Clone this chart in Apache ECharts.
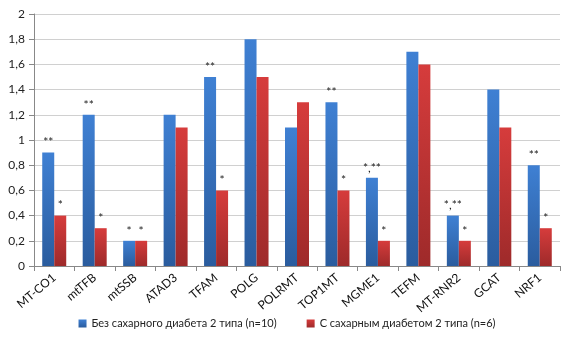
<!DOCTYPE html>
<html>
<head>
<meta charset="utf-8">
<script src="https://cdn.jsdelivr.net/npm/echarts@6/dist/echarts.min.js"></script>
<style>
  html, body { margin: 0; padding: 0; background: #fff; }
  #chart { width: 574px; height: 348px; }
</style>
</head>
<body>
<div id="chart"></div>
<script>
const categories = ["MT-CO1", "mtTFB", "mtSSB", "ATAD3", "TFAM", "POLG", "POLRMT", "TOP1MT", "MGME1", "TEFM", "MT-RNR2", "GCAT", "NRF1"];
const withoutDiabetes = [0.9, 1.2, 0.2, 1.2, 1.5, 1.8, 1.1, 1.3, 0.7, 1.7, 0.4, 1.4, 0.8];
const withDiabetes = [0.4, 0.3, 0.2, 1.1, 0.6, 1.5, 1.3, 0.6, 0.2, 1.6, 0.2, 1.1, 0.3];
// значки значимости над столбиками
const marksWithout = ["**", "**", "*", "", "**", "", "", "**", "*,**", "", "*,**", "", "**"];
const marksWith = ["*", "*", "*", "", "*", "", "", "*", "*", "", "*", "", "*"];
const yTicks = { min: 0, max: 2, interval: 0.2 };

const font = "Lato, 'Open Sans', sans-serif";
const chart = echarts.init(document.getElementById("chart"));

function grad(top, bottom) {
  return new echarts.graphic.LinearGradient(0, 0, 0, 1, [
    { offset: 0, color: top },
    { offset: 1, color: bottom }
  ]);
}

chart.setOption({
  animation: false,
  textStyle: { fontFamily: font },
  grid: { left: 34, right: 14, top: 14, bottom: 82 },
  legend: {
    bottom: 14,
    left: "center",
    icon: "rect",
    itemWidth: 8,
    itemHeight: 8,
    itemGap: 30,
    textStyle: { fontSize: 11, color: "#222", fontFamily: font }
  },
  xAxis: {
    type: "category",
    data: categories,
    axisLine: { lineStyle: { color: "#888" } },
    axisTick: { show: true, alignWithLabel: false, length: 5, lineStyle: { color: "#888" } },
    axisLabel: { rotate: 40, fontSize: 12, color: "#111", margin: 10, interval: 0 }
  },
  yAxis: {
    type: "value",
    min: yTicks.min,
    max: yTicks.max,
    interval: yTicks.interval,
    axisLine: { show: true, lineStyle: { color: "#888" } },
    axisTick: { show: true, length: 5, lineStyle: { color: "#888" } },
    axisLabel: {
      fontSize: 12,
      color: "#222",
      margin: 9,
      formatter: v => String(Math.round(v * 10) / 10).replace(".", ",")
    },
    splitLine: { lineStyle: { color: "#d0d0d0" } }
  },
  series: [
    {
      name: "Без сахарного диабета 2 типа (n=10)",
      type: "bar",
      barWidth: 12,
      barGap: "0%",
      data: withoutDiabetes,
      itemStyle: { color: grad("#3f80d3", "#2a5c9e") },
      label: {
        show: true,
        position: "top",
        distance: 4,
        fontSize: 12,
        color: "#222",
        formatter: p => marksWithout[p.dataIndex]
      }
    },
    {
      name: "С сахарным диабетом 2 типа (n=6)",
      type: "bar",
      barWidth: 12,
      barGap: "0%",
      data: withDiabetes,
      itemStyle: { color: grad("#d63c3c", "#9e2a2a") },
      label: {
        show: true,
        position: "top",
        distance: 4,
        fontSize: 12,
        color: "#222",
        formatter: p => marksWith[p.dataIndex]
      }
    }
  ]
});
</script>
</body>
</html>
